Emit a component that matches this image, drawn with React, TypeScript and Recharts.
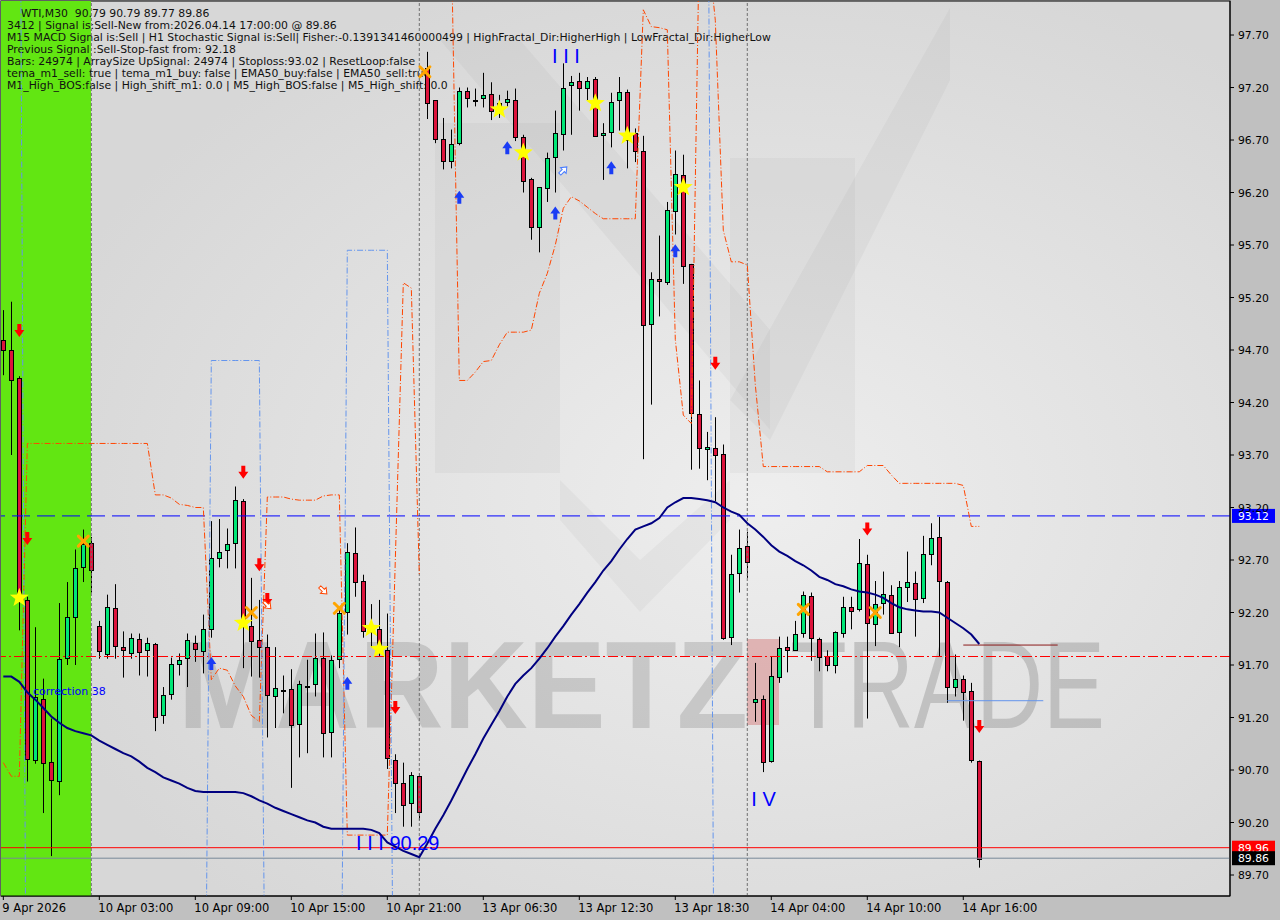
import React from "react";
import {
  ComposedChart,
  Bar,
  Line,
  Scatter,
  XAxis,
  YAxis,
  ReferenceLine,
  ReferenceArea,
} from "recharts";

// WTI M30 candles, bar 0 = 9 Apr 21:00
const opens = [
  94.8, 94.7, 94.43, 92.32, 90.8, 91.38, 90.78, 90.6, 91.77, 92.15,
  92.63, 92.86, 92.07, 91.8, 92.24, 91.87, 91.82, 91.95, 91.84, 91.9,
  91.22, 91.42, 91.71, 91.77, 91.91, 91.83, 92.04, 92.72, 92.79, 92.86,
  93.26, 92.07, 91.94, 91.87, 91.4, 91.46, 91.47, 91.14, 91.49, 91.52,
  91.77, 91.06, 91.76, 92.21, 92.77, 92.5, 92.05, 92.04, 91.84, 90.8,
  90.58, 90.38, 90.64, 97.39, 97.08, 96.71, 96.5, 96.67, 97.17, 97.08,
  97.1, 97.14, 97.05, 97.06, 97.08, 96.73, 96.33, 95.87, 96.24, 96.54,
  96.76, 97.22, 97.26, 97.19, 97.28, 96.75, 96.77, 97.08, 97.16, 96.77,
  96.6, 94.95, 95.38, 95.34, 96.03, 96.37, 95.52, 94.09, 93.76, 93.77,
  93.71, 91.97, 92.57, 92.83, 91.35, 91.38, 90.79, 91.58, 91.87, 91.85,
  92.01, 92.36, 91.95, 91.79, 91.7, 92.0, 92.25, 92.23, 92.66, 92.09,
  92.29, 92.37, 92.01, 92.44, 92.48, 92.34, 92.76, 92.92, 92.49, 91.49,
  91.57, 91.45, 90.79,
];
const highs = [
  95.08, 95.16, 94.45, 92.35, 92.06, 91.57, 91.19, 92.29, 92.49, 92.8,
  92.99, 92.92, 92.12, 92.37, 92.47, 92.02, 92.0, 92.0, 91.96, 91.91,
  91.49, 91.77, 91.81, 92.0, 91.98, 92.18, 93.07, 93.09, 93.0, 93.4,
  93.28, 92.53, 92.32, 91.99, 91.87, 91.6, 91.66, 91.55, 91.75, 92.0,
  92.01, 91.79, 92.25, 92.86, 93.01, 92.56, 92.28, 92.32, 92.19, 90.85,
  90.77, 90.68, 90.67, 97.54, 97.08, 96.91, 96.8, 97.2, 97.2, 97.19,
  97.34, 97.25, 97.13, 97.17, 97.19, 96.75, 96.34, 96.25, 96.58, 96.98,
  97.43, 97.31, 97.34, 97.3, 97.3, 96.86, 97.15, 97.3, 97.18, 96.81,
  96.74, 95.44, 95.79, 96.11, 96.6, 96.56, 95.52, 94.41, 93.92, 94.06,
  93.8, 92.75, 92.99, 92.97, 91.72, 91.41, 91.78, 91.97, 91.97, 92.12,
  92.4, 92.39, 91.96, 91.84, 92.02, 92.35, 92.35, 92.9, 92.75, 92.5,
  92.59, 92.46, 92.5, 92.78, 92.59, 92.93, 93.05, 93.11, 92.5, 91.8,
  91.6, 91.53, 90.79,
];
const lows = [
  94.46, 93.7, 92.03, 90.59, 90.76, 90.29, 89.88, 90.46, 91.7, 91.7,
  92.49, 92.39, 91.76, 91.76, 91.76, 91.58, 91.76, 91.6, 91.59, 91.07,
  91.14, 91.37, 91.6, 91.49, 91.73, 91.62, 91.96, 92.63, 92.62, 92.62,
  91.67, 91.59, 91.58, 91.01, 91.1, 91.24, 90.53, 90.82, 90.86, 91.4,
  90.82, 90.82, 91.67, 91.99, 92.35, 91.96, 91.87, 91.78, 90.71, 90.29,
  90.16, 90.16, 90.22, 96.9, 96.67, 96.42, 96.43, 96.65, 97.01, 97.02,
  97.01, 96.89, 96.91, 97.02, 96.69, 96.2, 95.75, 95.63, 96.11, 96.2,
  96.6, 96.75, 96.98, 97.08, 96.73, 96.32, 96.63, 96.79, 96.43, 96.49,
  93.66, 94.18, 95.02, 95.32, 95.8, 95.33, 93.56, 93.57, 93.46, 93.26,
  91.94, 91.89, 92.39, 92.53, 91.16, 90.68, 90.77, 91.53, 91.63, 91.84,
  91.96, 91.74, 91.64, 91.64, 91.62, 91.96, 92.04, 92.21, 91.19, 91.88,
  92.18, 92.0, 91.87, 92.3, 91.97, 92.29, 92.65, 91.78, 91.34, 91.4,
  91.17, 90.77, 89.77,
];
const closes = [
  94.7, 94.41, 92.37, 90.81, 91.4, 90.77, 90.61, 91.76, 92.16, 92.62,
  92.85, 92.6, 91.83, 92.25, 91.88, 91.84, 91.96, 91.83, 91.91, 91.2,
  91.41, 91.71, 91.75, 91.94, 91.85, 92.04, 92.72, 92.78, 92.85, 93.27,
  92.07, 91.93, 91.87, 91.41, 91.48, 91.46, 91.13, 91.52, 91.5, 91.77,
  91.06, 91.75, 92.2, 92.78, 92.49, 92.02, 92.01, 91.82, 90.81, 90.58,
  90.37, 90.65, 90.3, 97.06, 96.71, 96.5, 96.66, 97.17, 97.1, 97.08,
  97.13, 96.98, 96.98, 97.09, 96.73, 96.31, 95.87, 96.25, 96.53, 96.77,
  97.2, 97.25, 97.19, 97.26, 96.74, 96.77, 97.06, 97.16, 96.7, 96.6,
  94.94, 95.38, 95.36, 96.03, 96.38, 95.5, 94.1, 93.77, 93.78, 93.7,
  91.96, 92.57, 92.81, 92.68, 91.38, 90.78, 91.6, 91.86, 91.84, 92.0,
  92.37, 91.96, 91.78, 91.7, 92.01, 92.25, 92.21, 92.67, 92.1, 92.28,
  92.38, 92.01, 92.44, 92.49, 92.33, 92.76, 92.91, 92.5, 91.49, 91.57,
  91.45, 90.79, 89.86,
];

// navy moving average
const emaValues = [
  91.59, 91.59, 91.54, 91.44, 91.37, 91.29, 91.21, 91.15, 91.1, 91.07,
  91.05, 91.03, 90.98, 90.94, 90.9, 90.86, 90.83, 90.78, 90.72, 90.68,
  90.63, 90.6, 90.57, 90.53, 90.5, 90.49, 90.49, 90.49, 90.49, 90.49,
  90.48, 90.45, 90.41, 90.38, 90.34, 90.31, 90.28, 90.25, 90.22, 90.2,
  90.16, 90.14, 90.14, 90.14, 90.14, 90.14, 90.13, 90.1, 90.01, 89.97,
  89.93, 89.9, 89.87, 90.0, 90.14, 90.27, 90.41, 90.56, 90.71, 90.85,
  91.0, 91.13, 91.26, 91.4, 91.52, 91.6, 91.67, 91.76, 91.86, 91.97,
  92.07, 92.18, 92.28, 92.39, 92.49, 92.6, 92.69, 92.8, 92.9, 92.99,
  93.02, 93.05, 93.1, 93.2, 93.25, 93.29, 93.29, 93.28, 93.27, 93.25,
  93.2, 93.16, 93.13, 93.05, 92.99, 92.92, 92.84, 92.78, 92.74, 92.69,
  92.65, 92.6, 92.54, 92.51, 92.47, 92.45, 92.42, 92.4, 92.39, 92.37,
  92.34, 92.29, 92.25, 92.23, 92.22, 92.21, 92.21, 92.2, 92.15, 92.1,
  92.05, 91.99, 91.9,
];

// orange dash-dot stop line (null = not drawn)
const stopValues: (number | null)[] = [
  90.77, 90.64, 90.64, 93.81, 93.81, 93.81, 93.81, 93.81, 93.81, 93.81,
  93.81, 93.81, 93.81, 93.81, 93.81, 93.81, 93.81, 93.81, 93.81, 93.32,
  93.32, 93.29, 93.23, 93.22, 93.2, 93.2, 91.56, 91.67, 91.65, 91.5,
  91.4, 91.22, 91.16, 93.3, 93.3, 93.3, 93.28, 93.27, 93.27, 93.27,
  93.31, 93.32, 93.32, 90.08, 90.08, 90.08, 90.08, 90.08, 90.08, 92.7,
  95.34, 95.29, 92.56, null, null, null, 98.6, 94.41, 94.41, 94.49,
  94.59, 94.6, 94.75, 94.87, 94.87, 94.87, 94.89, 95.24, 95.43, 95.7,
  96.05, 96.16, 96.12, 96.06, 96.0, 95.95, 95.95, 95.95, 95.95, 95.95,
  97.94, 97.78, 97.77, 97.75, 94.8, 94.08, 94.0, 98.6, 98.6, 97.84,
  95.84, 95.54, 95.54, 95.51, 94.37, 93.59, 93.59, 93.59, 93.59, 93.59,
  93.59, 93.59, 93.59, 93.54, 93.54, 93.54, 93.54, 93.54, 93.6, 93.6,
  93.6, 93.51, 93.43, 93.43, 93.43, 93.43, 93.43, 93.43, 93.43, 93.43,
  93.41, 93.02, 93.02,
];

// light blue dash-dot line, [bar, value]
const bandPoints: [number, number][] = [
  [2, 101], [3, 86],
  [25, 86], [26, 94.6], [27, 94.6], [28, 94.6], [29, 94.6], [30, 94.6], [31, 94.6], [32, 94.6], [33, 86],
  [42, 86], [43, 95.65], [44, 95.65], [45, 95.65], [46, 95.65], [47, 95.65], [48, 95.65], [49, 86],
  [88, 101], [89, 86],
];

const timeTicks = [0, 12, 24, 36, 48, 60, 72, 84, 96, 108, 120];
const timeLabels = [
  "9 Apr 2026", "10 Apr 03:00", "10 Apr 09:00", "10 Apr 15:00", "10 Apr 21:00",
  "13 Apr 06:30", "13 Apr 12:30", "13 Apr 18:30", "14 Apr 04:00", "14 Apr 10:00", "14 Apr 16:00",
];
const priceTicks = [89.7, 90.2, 90.7, 91.2, 91.7, 92.2, 92.7, 93.2, 93.7, 94.2, 94.7, 95.2, 95.7, 96.2, 96.7, 97.2, 97.7];

const downArrows = [
  { i: 2, p: 94.88 }, { i: 3, p: 92.9 }, { i: 30, p: 93.53 }, { i: 32, p: 92.65 }, { i: 33, p: 92.32 },
  { i: 49, p: 91.29 }, { i: 89, p: 94.57 }, { i: 108, p: 92.99 }, { i: 122, p: 91.11 },
];
const upArrows = [
  { i: 26, p: 91.72 }, { i: 43, p: 91.53 }, { i: 57, p: 96.16 }, { i: 63, p: 96.63 },
  { i: 69, p: 96.01 }, { i: 76, p: 96.44 }, { i: 84, p: 95.65 },
];
const stars = [
  { i: 2, p: 92.34 }, { i: 30, p: 92.1 }, { i: 46, p: 92.05 }, { i: 47, p: 91.85 }, { i: 62, p: 96.99 },
  { i: 65, p: 96.58 }, { i: 74, p: 97.05 }, { i: 78, p: 96.74 }, { i: 85, p: 96.25 },
];
const crosses = [
  { i: 10, p: 92.88 }, { i: 31, p: 92.2 }, { i: 42, p: 92.24 }, { i: 52.7, p: 97.35 },
  { i: 100, p: 92.23 }, { i: 109, p: 92.2 },
];
const hollowArrows = [
  { i: 40, p: 92.41, color: "#ff4500", angle: 135 },
  { i: 33, p: 92.27, color: "#ff4500", angle: 135 },
  { i: 70, p: 96.41, color: "#4a7dff", angle: 45 },
];
const annotations = [
  { i: 3.7, p: 91.41, text: "correction 38", size: 11, font: "DejaVu Sans" },
  { i: 68.6, p: 97.43, text: "I I I", size: 20, font: "Liberation Sans" },
  { i: 44.1, p: 89.94, text: "I I I 90.29", size: 20, font: "Liberation Sans" },
  { i: 93.5, p: 90.36, text: "I V", size: 20, font: "Liberation Sans" },
];

const headerLines = [
  "    WTI,M30  90.79 90.79 89.77 89.86",
  "3412 | Signal is:Sell-New from:2026.04.14 17:00:00 @ 89.86",
  "M15 MACD Signal is:Sell | H1 Stochastic Signal is:Sell| Fisher:-0.1391341460000499 | HighFractal_Dir:HigherHigh | LowFractal_Dir:HigherLow",
  "Previous Signal :Sell-Stop-fast from: 92.18",
  "Bars: 24974 | ArraySize UpSignal: 24974 | Stoploss:93.02 | ResetLoop:false",
  "tema_m1_sell: true | tema_m1_buy: false | EMA50_buy:false | EMA50_sell:true",
  "M1_High_BOS:false | High_shift_m1: 0.0 | M5_High_BOS:false | M5_High_shift: 0.0",
];

const X_MIN = -0.29;
const X_MAX = 153.34;
const Y_MIN = 89.5;
const Y_MAX = 98.024;

const bandByBar = new Map(bandPoints);
const rows = opens.map((open, i) => ({
  i,
  open,
  high: highs[i],
  low: lows[i],
  close: closes[i],
  range: [lows[i], highs[i]],
  ema: emaValues[i],
  stop: stopValues[i],
  band: bandByBar.get(i) ?? null,
}));

const Candle = (props: any) => {
  const { x, y, width, height, payload } = props;
  if (!payload || !height) return null;
  const k = height / (payload.high - payload.low);
  const yOpen = y + (payload.high - payload.open) * k;
  const yClose = y + (payload.high - payload.close) * k;
  const up = payload.close >= payload.open;
  const px = Math.round(x + width / 2);
  const top = Math.round(Math.min(yOpen, yClose)) + 0.5;
  const bh = Math.max(Math.round(Math.abs(yClose - yOpen)), 1);
  return (
    <g>
      <line x1={px + 0.5} x2={px + 0.5} y1={y} y2={y + height} stroke="#000" strokeWidth={1} />
      <rect x={px - 1.5} y={top} width={4} height={bh} fill={up ? "#00e676" : "#dc143c"} stroke="#000" strokeWidth={1} />
    </g>
  );
};

const DownArrow = ({ cx, cy }: any) => (
  <path
    d={`M${cx - 2},${cy - 7} L${cx + 2},${cy - 7} L${cx + 2},${cy - 1} L${cx + 5},${cy - 1} L${cx},${cy + 6} L${cx - 5},${cy - 1} L${cx - 2},${cy - 1} Z`}
    fill="#ff0000"
  />
);
const UpArrow = ({ cx, cy }: any) => (
  <path
    d={`M${cx - 2},${cy + 7} L${cx + 2},${cy + 7} L${cx + 2},${cy + 1} L${cx + 5},${cy + 1} L${cx},${cy - 6} L${cx - 5},${cy + 1} L${cx - 2},${cy + 1} Z`}
    fill="#1a3cf5"
  />
);
const Star = ({ cx, cy }: any) => {
  const pts: string[] = [];
  for (let k = 0; k < 10; k++) {
    const r = k % 2 === 0 ? 10 : 4.2;
    const a = -Math.PI / 2 + (k * Math.PI) / 5;
    pts.push(`${cx + r * Math.cos(a)},${cy + r * Math.sin(a)}`);
  }
  return <polygon points={pts.join(" ")} fill="#ffff00" />;
};
const Cross = ({ cx, cy }: any) => (
  <g stroke="#ffa500" strokeWidth={3} strokeLinecap="round">
    <line x1={cx - 5} y1={cy - 5} x2={cx + 5} y2={cy + 5} />
    <line x1={cx - 5} y1={cy + 5} x2={cx + 5} y2={cy - 5} />
  </g>
);
const HollowArrow = ({ cx, cy, payload }: any) => (
  <path
    transform={`rotate(${payload.angle} ${cx} ${cy})`}
    d={`M${cx - 1.5},${cy + 5} L${cx + 1.5},${cy + 5} L${cx + 1.5},${cy} L${cx + 4},${cy} L${cx},${cy - 5} L${cx - 4},${cy} L${cx - 1.5},${cy} Z`}
    fill="#fff"
    stroke={payload.color}
    strokeWidth={1}
  />
);
const Annotation = ({ cx, cy, payload }: any) => (
  <text x={cx} y={cy} fill="#0000ff" fontSize={payload.size} fontFamily={payload.font} style={{ whiteSpace: "pre" }}>
    {payload.text}
  </text>
);

const PlotBackground = ({ x, y, width, height }: any) => (
  <g>
    <defs>
      <radialGradient id="plotBg" cx="0.62" cy="0.56" r="0.62">
        <stop offset="0%" stopColor="#eeeeee" />
        <stop offset="100%" stopColor="#d7d7d7" />
      </radialGradient>
    </defs>
    <rect x={x} y={y} width={width} height={height} fill="url(#plotBg)" stroke="#000" />
    <g transform={`translate(${x - 1},${y - 1})`}>
      <g fill="#000" fillOpacity={0.03}>
        <polygon points="435,123 560,123 560,473 435,473" />
        <polygon points="730,158 855,158 855,473 730,473" />
        <polygon points="440,40 520,40 770,330 770,430" />
        <polygon points="730,400 950,8 950,80 770,440" />
        <polygon points="560,480 640,560 730,480 730,520 640,612 560,520" />
      </g>
      <text x={178} y={728} fontFamily="Liberation Sans" fontWeight="bold" fontSize={125} textLength={570} lengthAdjust="spacingAndGlyphs" fill="#8c8c8c" fillOpacity={0.34}>
        MARKETZ
      </text>
      <rect x={747} y={639} width={32} height={86} fill="#d98f8f" fillOpacity={0.6} />
      <text x={790} y={728} fontFamily="Liberation Sans" fontSize={125} textLength={315} lengthAdjust="spacingAndGlyphs" fill="#8c8c8c" fillOpacity={0.4}>
        TRADE
      </text>
    </g>
  </g>
);

const Header = ({ x, y }: any) => (
  <g transform={`translate(${x - 1},${y - 1})`} fontFamily="DejaVu Sans" fontSize={10.85} fill="#111">
    {headerLines.map((t, k) => (
      <text key={k} x={7} y={17 + k * 12} style={{ whiteSpace: "pre" }}>
        {t}
      </text>
    ))}
  </g>
);

const TimeTick = ({ x, y, payload }: any) => {
  const k = timeTicks.indexOf(payload.value);
  return (
    <g>
      <line x1={x} x2={x} y1={y} y2={y + 4} stroke="#000" />
      <text x={x - 1} y={y + 16} fontSize={11.5} fontFamily="DejaVu Sans" fill="#000">
        {timeLabels[k]}
      </text>
    </g>
  );
};
const PriceTick = ({ x, y, payload }: any) => (
  <g>
    <line x1={x} x2={x + 4} y1={y} y2={y} stroke="#000" />
    <text x={x + 8} y={y + 4} fontSize={10.8} fontFamily="DejaVu Sans" fill="#000">
      {Number(payload.value).toFixed(2)}
    </text>
  </g>
);
const priceTag = (text: string, bg: string) => (props: any) => {
  const vb = props.viewBox;
  if (!vb) return null;
  const x = vb.x + vb.width + 2;
  return (
    <g>
      <rect x={x} y={vb.y - 7} width={43} height={14} fill={bg} />
      <text x={x + 6} y={vb.y + 4} fill="#fff" fontSize={10.8} fontFamily="DejaVu Sans">
        {text}
      </text>
    </g>
  );
};

export default function App() {
  return (
    <div style={{ width: 1280, height: 920, background: "#c0c0c0" }}>
      <style>{`body{margin:0}`}</style>
      <ComposedChart width={1280} height={920} data={rows} margin={{ top: 1, right: 0, left: 1, bottom: 0 }}>
        <XAxis
          type="number"
          dataKey="i"
          domain={[X_MIN, X_MAX]}
          allowDataOverflow
          ticks={timeTicks}
          interval={0}
          tick={<TimeTick />}
          tickLine={false}
          tickSize={0}
          tickMargin={0}
          height={24}
          axisLine={{ stroke: "#000" }}
        />
        <YAxis
          orientation="right"
          domain={[Y_MIN, Y_MAX]}
          allowDataOverflow
          ticks={priceTicks}
          interval={0}
          tick={<PriceTick />}
          tickLine={false}
          tickSize={0}
          tickMargin={0}
          width={50}
          axisLine={{ stroke: "#000" }}
        />
        <ReferenceArea x1={X_MIN} x2={X_MAX} y1={Y_MIN} y2={Y_MAX} shape={<PlotBackground />} />
        <ReferenceArea x1={X_MIN} x2={10.96} y1={Y_MIN} y2={Y_MAX} fill="#62e612" fillOpacity={1} stroke="none" />
        <ReferenceArea x1={X_MIN} x2={X_MAX} y1={Y_MIN} y2={Y_MAX} shape={<Header />} />

        <ReferenceLine x={11} stroke="#707070" strokeDasharray="3 2" />
        <ReferenceLine x={52} stroke="#707070" strokeDasharray="3 2" />
        <ReferenceLine x={93} stroke="#707070" strokeDasharray="3 2" />
        <ReferenceLine y={93.12} stroke="#0000ff" strokeDasharray="18 7" label={priceTag("93.12", "#0000ff")} />
        <ReferenceLine y={91.781} stroke="#ff0000" strokeWidth={1} strokeDasharray="10 3 2 3" />
        <ReferenceLine y={89.96} stroke="#ff0000" label={priceTag("89.96", "#ff0000")} />
        <ReferenceLine y={89.86} stroke="#778899" label={priceTag("89.86", "#000000")} />
        <ReferenceLine segment={[{ x: 120, y: 91.89 }, { x: 131.8, y: 91.89 }]} stroke="#8b1a1a" />
        <ReferenceLine segment={[{ x: 118, y: 91.36 }, { x: 130, y: 91.36 }]} stroke="#6495ed" />

        <Line dataKey="stop" stroke="#ff4500" strokeWidth={1} strokeDasharray="6 2 1 2" dot={false} connectNulls={false} isAnimationActive={false} />
        <Line dataKey="band" stroke="#6495ed" strokeWidth={1} strokeDasharray="6 2 1 2" dot={false} connectNulls={false} isAnimationActive={false} />
        <Bar dataKey="range" barSize={5} shape={<Candle />} isAnimationActive={false} />
        <Line dataKey="ema" stroke="#000080" strokeWidth={2} dot={false} isAnimationActive={false} />

        <Scatter data={stars} dataKey="p" shape={<Star />} isAnimationActive={false} />
        <Scatter data={crosses} dataKey="p" shape={<Cross />} isAnimationActive={false} />
        <Scatter data={downArrows} dataKey="p" shape={<DownArrow />} isAnimationActive={false} />
        <Scatter data={upArrows} dataKey="p" shape={<UpArrow />} isAnimationActive={false} />
        <Scatter data={hollowArrows} dataKey="p" shape={<HollowArrow />} isAnimationActive={false} />
        <Scatter data={annotations} dataKey="p" shape={<Annotation />} isAnimationActive={false} />
      </ComposedChart>
    </div>
  );
}
